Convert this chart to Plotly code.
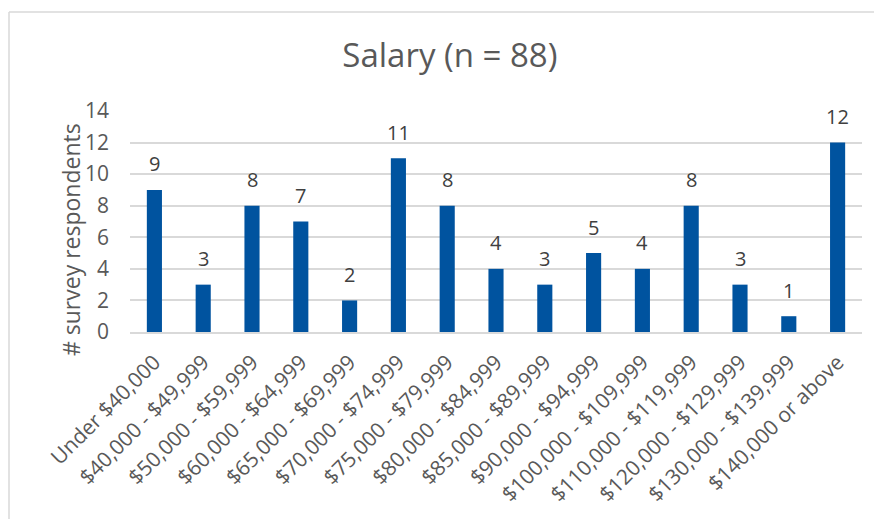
import plotly.graph_objects as go

categories = [
    "Under $40,000", "$40,000 - $49,999", "$50,000 - $59,999", "$60,000 - $64,999",
    "$65,000 - $69,999", "$70,000 - $74,999", "$75,000 - $79,999", "$80,000 - $84,999",
    "$85,000 - $89,999", "$90,000 - $94,999", "$100,000 - $109,999", "$110,000 - $119,999",
    "$120,000 - $129,999", "$130,000 - $139,999", "$140,000 or above",
]
respondents = [9, 3, 8, 7, 2, 11, 8, 4, 3, 5, 4, 8, 3, 1, 12]
y_ticks = [0, 2, 4, 6, 8, 10, 12, 14]

FONT = "Open Sans"
GREY = "#595959"

fig = go.Figure()
fig.add_trace(go.Bar(
    x=categories,
    y=respondents,
    marker=dict(color="#00539f", line=dict(width=0)),
    cliponaxis=False,
))

# data labels above the bars
for cat, val in zip(categories, respondents):
    fig.add_annotation(x=cat, y=val, text=str(val), showarrow=False,
                       yanchor="middle", yshift=26,
                       font=dict(family=FONT, size=20, color="#404040"))

# y axis title, placed like Excel does it
fig.add_annotation(xref="paper", yref="paper", x=-0.0806, y=0.416, text="# survey respondents",
                   textangle=-90, showarrow=False, xanchor="center", yanchor="middle",
                   font=dict(family=FONT, size=23, color=GREY))

# chart border (top and left edges visible in the frame)
fig.add_shape(type="line", xref="paper", yref="paper", x0=-0.1653, x1=1.1, y0=1.448, y1=1.448,
              line=dict(color="#d9d9d9", width=1.5))
fig.add_shape(type="line", xref="paper", yref="paper", x0=-0.1653, x1=-0.1653, y0=1.448, y1=-1.0,
              line=dict(color="#d9d9d9", width=1.5))

fig.update_layout(
    width=882, height=519,
    margin=dict(l=122, r=28, t=103, b=195),
    paper_bgcolor="white", plot_bgcolor="white",
    bargap=0.69,
    showlegend=False,
    title=dict(text="Salary (n = 88)", x=0.501, xanchor="center", y=0.909, yanchor="middle",
               font=dict(family=FONT, size=33, color=GREY)),
    font=dict(family=FONT, color=GREY),
)
fig.update_xaxes(
    tickangle=-45, tickfont=dict(family=FONT, size=21, color=GREY), automargin=False,
    showline=True, linecolor="#d9d9d9", linewidth=1.5, ticks="", showgrid=False,
    ticklabelstandoff=8,
)
fig.update_yaxes(
    range=[0, 14], tickvals=y_ticks, tickfont=dict(family=FONT, size=21, color=GREY),
    showgrid=True, gridcolor="#d9d9d9", gridwidth=1.5, zeroline=False,
    ticks="", ticklabelstandoff=20, automargin=False,
)

fig.write_html("out.html")
